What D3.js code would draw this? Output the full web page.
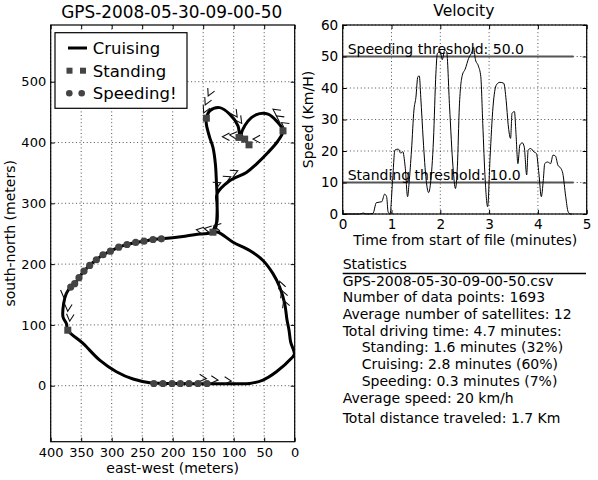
<!DOCTYPE html>
<html><head><meta charset="utf-8">
<script src="https://cdn.jsdelivr.net/npm/d3@7"></script>
<style>body{margin:0;background:#fff} text{font-family:"DejaVu Sans",sans-serif;fill:#000}</style>
</head><body><svg id="c" width="598" height="480"></svg>
<script>
// ---------- DATA ----------
const mapTitle = "GPS-2008-05-30-09-00-50";
const velTitle = "Velocity";
// GPS track (meters): east-west, south-north
const trackX = [82,90.2,93,106.6,123,139.3,144.8,144.8,139.3,134,130,128.4,127.4,127.4,129.5,134,155.7,180,218.5,232.3,247,260.7,274.9,288.5,302.1,314.3,325.1,336.1,345.4,353.6,360.7,367.2,374.3,378.7,379.8,374.3,372,347,319.7,292.3,265,237.7,216,187.4,158.5,130,101,73.8,52,30,5.4,0.5,6.6,9.3,12.6,16.4,24.6,35.6,52,73.8,101,125.7,134,127.4,127.4,127.4,106.6,79.2,62.8,43.8,27.4,19.2,30,43.8,57.4,71,82,87.4,82];
const trackY = [401,413.8,427.4,446.6,457.4,452,440,430,408,392,364.6,337,315.4,280,260,252.5,249.5,246,241.6,240.5,237.7,235.6,232.3,227.9,221.3,215.4,207.2,197.9,188.5,177.7,167.9,162.3,152,135.6,113,102.3,91.3,69.5,42.1,23,11,5,3.8,3.5,3.3,3.2,3.3,3.8,9.3,23,45,52,71.6,91.3,107.9,135,162.3,184.3,206,222.5,236,252.5,252.5,270,300,315.4,337.2,350.8,364.6,383.6,402.8,419.2,435.6,446.6,447.5,441,427.4,413.8,401];
// Standing points
const standX = [144.8,19.2,91.3,82,74.9,134,372];
const standY = [440,419.2,408.4,405.6,396.2,252.5,91.3];
// Speeding points
const speedX = [218.5,232.3,247,260.7,274.9,288.5,302.1,314.3,325.1,336.1,345.4,353.6,360.7,367.2,231,216,201,187.4,173.3,158.5,143.8];
const speedY = [241.6,240.5,237.7,235.6,232.3,227.9,221.3,215.4,207.2,197.9,188.5,177.7,167.9,162.3,3.6,3.6,3.6,3.6,3.6,3.6,3.6];
// Heading arrows (tip position in meters, heading in degrees)
const arrowX = [144.8,125.7,103.8, 24.6,21.3,18, 161.1,148.4,132.8, 121.3,104.9,93.4, 141.8,146.7,149.2, 94.3,86.9, 118.5,106.6,68.4, 35.6,30,21.8, 378.7,372.1,368.9];
const arrowY = [11.8,9.3,7.7, 171.6,156.9,140.5, 256.4,258.5,262.6, 333.9,343.8,353.6, 476.6,461.8,448.7, 442.1,431.5, 409.5,412.6,405.6, 454.8,443.8,432.8, 145.4,122.5,106.1];
const arrowDir = [5,5,5, -110,-110,-110, 190,190,190, -25,-25,-25, 115,115,115, 55,55, 180,185,180, -145,-145,-145, 95,95,95];
const mapXTicks = [400,350,300,250,200,150,100,50,0];
const mapYTicks = [0,100,200,300,400,500];
const legendLabels = ["Cruising","Standing","Speeding!"];
// Velocity
const velTime = [0,0.35,0.42,0.49,0.62,0.69,0.80,0.86,0.90,0.93,0.97,1.02,1.07,1.14,1.19,1.23,1.28,1.33,1.36,1.41,1.46,1.50,1.54,1.57,1.60,1.65,1.71,1.76,1.80,1.86,1.91,1.94,2.00,2.04,2.09,2.13,2.19,2.26,2.31,2.35,2.39,2.45,2.51,2.58,2.65,2.68,2.72,2.78,2.83,2.87,2.92,2.97,3.02,3.08,3.15,3.22,3.30,3.35,3.39,3.44,3.47,3.52,3.55,3.59,3.63,3.68,3.72,3.77,3.80,3.85,3.92,3.97,4.02,4.07,4.11,4.14,4.20,4.26,4.31,4.36,4.41,4.47,4.51,4.57,4.62,4.67,4.70];
const velSpeed = [0,0,0.3,0,0.2,3.6,3.9,6.3,5.5,0.7,0,10,20.3,20.6,19.3,19.8,15,5.5,9.8,20.3,33,37,43.6,43.8,37,23.5,10.8,6.8,9.8,23.5,44.7,51,51.5,49,52,51.5,34,15,8.1,15,34,44,46,49.4,51.5,53,49,47,43.6,28.8,10.8,2.3,18,34,41,41.8,41.5,36,28.5,24,32,32.5,25.8,16,21.9,22.6,21.3,12.4,20.3,20.8,19.7,19.2,12.9,5.5,10.6,16,16.5,16,18.7,18.4,15.5,14.5,12.9,5.5,0.7,0,0];
const velXTicks = [0,1,2,3,4,5];
const velYTicks = [0,10,20,30,40,50,60];
const thresholdValues = [50,10];
const thresholdLabels = ["Speeding threshold: 50.0","Standing threshold: 10.0"];
const thresholdEnd = 4.73;
const statsTitle = "Statistics";
const statsLines = ["GPS-2008-05-30-09-00-50.csv","Number of data points: 1693","Average number of satellites: 12","Total driving time: 4.7 minutes:","Standing: 1.6 minutes (32%)","Cruising: 2.8 minutes (60%)","Speeding: 0.3 minutes (7%)","Average speed: 20 km/h","Total distance traveled: 1.7 Km"];
const statsIndent = [0,0,0,0,1,1,1,0,0];

// ---------- DRAW ----------
const svg = d3.select("#c");
const markerFill = "#444";

function grid(g, xs, ys, xT, yT, x0, x1, y0, y1) {
  g.selectAll(null).data(xT).enter().append("line")
    .attr("x1", d => xs(d)).attr("x2", d => xs(d)).attr("y1", y0).attr("y2", y1)
    .attr("stroke", "#222").attr("stroke-width", 0.8).attr("stroke-dasharray", "1,2.6");
  g.selectAll(null).data(yT).enter().append("line")
    .attr("y1", d => ys(d)).attr("y2", d => ys(d)).attr("x1", x0).attr("x2", x1)
    .attr("stroke", "#222").attr("stroke-width", 0.8).attr("stroke-dasharray", "1,2.6");
}
function axes(g, xs, ys, xT, yT, L, R, T, B, fs) {
  const ax = g.append("g").attr("transform", `translate(0,${B})`)
    .call(d3.axisBottom(xs).tickValues(xT).tickFormat(d3.format("d")).tickSizeInner(-4).tickSizeOuter(0).tickPadding(5.6));
  const ay = g.append("g").attr("transform", `translate(${L},0)`)
    .call(d3.axisLeft(ys).tickValues(yT).tickFormat(d3.format("d")).tickSizeInner(-4).tickSizeOuter(0).tickPadding(4.5));
  const at = g.append("g").attr("transform", `translate(0,${T})`)
    .call(d3.axisTop(xs).tickValues(xT).tickFormat("").tickSizeInner(-4).tickSizeOuter(0));
  const ar = g.append("g").attr("transform", `translate(${R},0)`)
    .call(d3.axisRight(ys).tickValues(yT).tickFormat("").tickSizeInner(-4).tickSizeOuter(0));
  [ax, ay, at, ar].forEach(a => {
    a.select(".domain").remove();
    a.selectAll("text").attr("font-family", "DejaVu Sans").attr("font-size", fs).attr("fill", "#000");
    a.selectAll("line").attr("stroke", "#000");
  });
  g.append("rect").attr("x", L).attr("y", T).attr("width", R - L).attr("height", B - T)
    .attr("fill", "none").attr("stroke", "#000").attr("stroke-width", 1.2);
}

// ---- Map ----
const mL = 50.7, mR = 294.7, mT = 25, mB = 441.7;
const mx = d3.scaleLinear().domain([400, 0]).range([mL, mR]);
const my = d3.scaleLinear().domain([-92.1, 593.3]).range([mB, mT]);
const gm = svg.append("g");
grid(gm, mx, my, mapXTicks, mapYTicks, mL, mR, mT, mB);
gm.append("defs").append("clipPath").attr("id", "mclip").append("rect")
  .attr("x", mL).attr("y", mT).attr("width", mR - mL).attr("height", mB - mT);
const gData = gm.append("g").attr("clip-path", "url(#mclip)");
const track = trackX.map((x, i) => [x, trackY[i]]);
gData.append("path").datum(track)
  .attr("d", d3.line().x(d => mx(d[0])).y(d => my(d[1])).curve(d3.curveCatmullRom.alpha(0.5)))
  .attr("fill", "none").attr("stroke", "#000").attr("stroke-width", 3).attr("stroke-linejoin", "round");
// arrows
const aL = 8, aA = 28 * Math.PI / 180;
gData.selectAll(null).data(arrowX.map((x, i) => [x, arrowY[i], arrowDir[i]])).enter().append("path")
  .attr("d", d => {
    const tx = mx(d[0]), ty = my(d[1]), t = d[2] * Math.PI / 180;
    const b1 = [tx - aL * Math.cos(t - aA), ty - aL * Math.sin(t - aA)];
    const b2 = [tx - aL * Math.cos(t + aA), ty - aL * Math.sin(t + aA)];
    return `M${b1[0]},${b1[1]}L${tx},${ty}L${b2[0]},${b2[1]}`;
  })
  .attr("fill", "none").attr("stroke", "#111").attr("stroke-width", 1.1);
// standing squares
gData.selectAll(null).data(standX.map((x, i) => [x, standY[i]])).enter().append("rect")
  .attr("x", d => mx(d[0]) - 3.5).attr("y", d => my(d[1]) - 3.5).attr("width", 7).attr("height", 7)
  .attr("fill", markerFill);
// speeding circles
gData.selectAll(null).data(speedX.map((x, i) => [x, speedY[i]])).enter().append("circle")
  .attr("cx", d => mx(d[0])).attr("cy", d => my(d[1])).attr("r", 3.6)
  .attr("fill", markerFill);
axes(gm, mx, my, mapXTicks, mapYTicks, mL, mR, mT, mB, 13);
gm.append("text").attr("x", (mL + mR) / 2 - 1).attr("y", 18).attr("text-anchor", "middle").attr("font-size", 16.9).text(mapTitle);
gm.append("text").attr("x", (mL + mR) / 2).attr("y", 472.5).attr("text-anchor", "middle").attr("font-size", 14).text("east-west (meters)");
gm.append("text").attr("transform", `translate(14.5,${(mT + mB) / 2}) rotate(-90)`).attr("text-anchor", "middle").attr("font-size", 14).text("south-north (meters)");
// legend
const lg = gm.append("g");
lg.append("rect").attr("x", 55).attr("y", 32.7).attr("width", 132).attr("height", 75.6)
  .attr("fill", "#fff").attr("stroke", "#000").attr("stroke-width", 1.2);
const legY = [48, 70.7, 93.3];
lg.append("line").attr("x1", 68).attr("x2", 87).attr("y1", legY[0]).attr("y2", legY[0]).attr("stroke", "#000").attr("stroke-width", 3);
[69.5, 83].forEach(x => lg.append("rect").attr("x", x - 3).attr("y", legY[1] - 3).attr("width", 6).attr("height", 6).attr("fill", markerFill));
[69.3, 81.7].forEach(x => lg.append("circle").attr("cx", x).attr("cy", legY[2]).attr("r", 3.3).attr("fill", markerFill));
legendLabels.forEach((t, i) => lg.append("text").attr("x", 92.7).attr("y", legY[i] + 5.8).attr("font-size", 16.5).text(t));

// ---- Velocity ----
const vL = 342.7, vR = 586.7, vT = 25, vB = 214;
const vx = d3.scaleLinear().domain([0, 5]).range([vL, vR]);
const vy = d3.scaleLinear().domain([0, 60]).range([vB, vT]);
const gv = svg.append("g");
grid(gv, vx, vy, velXTicks, velYTicks, vL, vR, vT, vB);
gv.selectAll(null).data(thresholdValues).enter().append("line")
  .attr("x1", vx(0)).attr("x2", vx(thresholdEnd)).attr("y1", d => vy(d)).attr("y2", d => vy(d))
  .attr("stroke", "#555").attr("stroke-width", 1.8);
gv.append("path").datum(velTime.map((t, i) => [t, velSpeed[i]]))
  .attr("d", d3.line().x(d => vx(d[0])).y(d => vy(d[1])).curve(d3.curveMonotoneX))
  .attr("fill", "none").attr("stroke", "#000").attr("stroke-width", 1);
gv.selectAll(null).data(thresholdValues).enter().append("text")
  .attr("x", vx(0) + 5).attr("y", d => vy(d) - 2.6).attr("font-size", 14)
  .text((d, i) => thresholdLabels[i]);
axes(gv, vx, vy, velXTicks, velYTicks, vL, vR, vT, vB, 13.6);
gv.append("text").attr("x", 463.8).attr("y", 16).attr("text-anchor", "middle").attr("font-size", 15.6).text(velTitle);
gv.append("text").attr("x", (vL + vR) / 2 + 0.5).attr("y", 245).attr("text-anchor", "middle").attr("font-size", 14).text("Time from start of file (minutes)");
gv.append("text").attr("transform", `translate(312.5,${(vT + vB) / 2}) rotate(-90)`).attr("text-anchor", "middle").attr("font-size", 14).text("Speed (Km/H)");

// ---- Statistics ----
const gs = svg.append("g");
gs.append("text").attr("x", 342.7).attr("y", 269.3).attr("font-size", 14).text(statsTitle);
gs.append("line").attr("x1", 342.7).attr("x2", 586).attr("y1", 273.5).attr("y2", 273.5).attr("stroke", "#000").attr("stroke-width", 1.4);
const statY = [285.7, 302.3, 319, 335.7, 352.3, 369, 385.7, 403.3, 422.5];
gs.selectAll(null).data(statsLines).enter().append("text")
  .attr("x", (d, i) => statsIndent[i] ? 361.7 : 342.7)
  .attr("y", (d, i) => statY[i]).attr("font-size", 14).text(d => d);
</script></body></html>
